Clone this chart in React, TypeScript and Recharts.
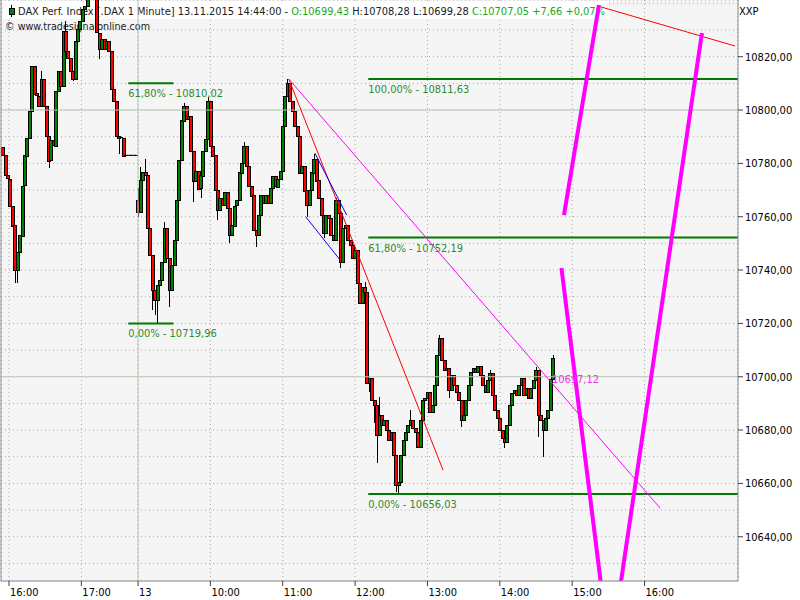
import React from 'react';
import {
  ComposedChart,
  Bar,
  XAxis,
  YAxis,
  CartesianGrid,
  ReferenceLine,
  ReferenceDot,
  Customized,
} from 'recharts';

const FONT = '"DejaVu Sans Condensed", "Liberation Sans", Arial, sans-serif';
const BODY_WIDTH = 3;

// time axis: minutes of trading time after 12.11.2015 16:00 (13.11. 09:00 = 107)
const firstMinute = -5;
const candleMinutes = 2;
const firstOpen = 10786.0;

const closes: number[] = [
  10783.0, 10775.5, 10774.3, 10764.2, 10756.8, 10739.9, 10746.7, 10753.0, 10771.7, 10783.0,
  10789.7, 10799.8, 10816.6, 10806.2, 10805.4, 10801.7, 10811.8, 10801.7, 10790.4, 10781.1,
  10788.6, 10786.7, 10807.3, 10814.8, 10809.2, 10829.7, 10822.2, 10819.6, 10814.8, 10811.8,
  10826.0, 10830.5, 10833.5, 10838.0, 10839.1, 10845.0, 10848.0, 10846.0, 10843.0, 10829.0,
  10823.0, 10826.7, 10823.0, 10826.0, 10822.2, 10808.0, 10803.5, 10790.4, 10789.7, 10789.7,
  10783.0, 10783.0, 10783.0, 10783.0, 10783.0, 10783.0, 10761.6, 10773.6, 10776.6, 10775.5,
  10755.6, 10745.5, 10732.4, 10728.7, 10734.3, 10736.2, 10742.9, 10755.6, 10744.4, 10732.4,
  10741.8, 10751.1, 10766.1, 10781.1, 10796.1, 10801.7, 10796.8, 10797.9, 10784.8, 10773.6,
  10777.3, 10770.6, 10775.5, 10784.8, 10789.3, 10803.5, 10786.7, 10783.0, 10769.9, 10762.4,
  10766.9, 10764.2, 10769.1, 10763.1, 10753.0, 10756.8, 10764.2, 10766.1, 10776.6, 10780.3,
  10786.7, 10779.2, 10771.7, 10768.0, 10754.9, 10753.0, 10760.5, 10768.0, 10765.0, 10768.0,
  10765.0, 10770.6, 10775.1, 10771.4, 10774.3, 10777.3, 10794.2, 10805.4, 10810.3, 10803.5,
  10799.8, 10794.2, 10790.4, 10776.6, 10779.2, 10769.9, 10764.2, 10769.9, 10776.6, 10781.8,
  10773.6, 10766.9, 10760.5, 10753.8, 10760.5, 10759.4, 10753.0, 10751.1, 10766.1, 10761.3,
  10742.9, 10755.6, 10756.8, 10751.1, 10749.3, 10744.4, 10747.4, 10735.1, 10727.6, 10733.6,
  10731.7, 10697.6, 10699.5, 10691.3, 10689.4, 10678.2, 10685.6, 10681.9, 10683.8, 10680.0,
  10676.3, 10679.3, 10670.7, 10659.5, 10660.6, 10670.7, 10676.3, 10679.3, 10681.9, 10683.8,
  10680.8, 10679.3, 10673.7, 10683.8, 10691.3, 10692.0, 10694.3, 10686.8, 10689.4, 10696.9,
  10708.1, 10714.5, 10706.2, 10702.5, 10703.2, 10695.0, 10700.6, 10696.9, 10694.3, 10691.3,
  10683.8, 10685.6, 10691.3, 10696.9, 10701.7, 10703.2, 10701.7, 10704.0, 10700.6, 10696.9,
  10694.3, 10698.8, 10701.4, 10693.1, 10687.5, 10684.5, 10680.0, 10677.0, 10675.5, 10681.9,
  10689.4, 10693.9, 10695.0, 10693.1, 10696.9, 10699.5, 10693.1, 10695.8, 10692.0, 10695.8,
  10698.8, 10702.5, 10685.6, 10683.8, 10680.0, 10684.5, 10687.5, 10699.3, 10707.05,
];

// session opening gap: [candle index, open]
const gapOpens: [number, number][] = [[56, 10766.1]];

// visible wick extremes: [candle index, price]
const wickTips: [number, number][] = [
  [5, 10735.1], [6, 10735.1], [16, 10814.8], [19, 10778.1], [26, 10833.5], [29, 10811.0],
  [40, 10819.3], [48, 10783.7], [56, 10770.6], [56, 10759.8], [57, 10778.5], [59, 10781.5],
  [62, 10725.0], [63, 10723.1], [64, 10719.96], [67, 10757.9], [69, 10726.1], [75, 10802.8],
  [79, 10765.4], [82, 10767.2], [85, 10805.0], [89, 10758.6], [94, 10750.0], [100, 10788.2],
  [105, 10748.5], [118, 10811.63], [126, 10759.8], [129, 10783.7], [133, 10751.9], [138, 10766.9],
  [140, 10740.7], [150, 10735.4], [152, 10694.3], [154, 10682.7], [155, 10667.7], [156, 10692.4],
  [163, 10656.8], [164, 10656.03], [169, 10687.5], [181, 10715.6], [185, 10692.0], [190, 10681.2],
  [202, 10702.5], [208, 10673.3], [221, 10703.6], [222, 10677.4], [224, 10669.9], [228, 10708.28],
];

const xTicks = [0, 60, 107, 167, 227, 287, 347, 407, 467, 527];
const xTickLabels = ['16:00', '17:00', '13', '10:00', '11:00', '12:00', '13:00', '14:00', '15:00', '16:00'];
const xDomain: [number, number] = [-6.63, 604.5];
const yDomain: [number, number] = [10623.4, 10841.26];
const yGridTicks = [
  10630, 10640, 10650, 10660, 10670, 10680, 10690, 10700, 10710, 10720, 10730,
  10740, 10750, 10760, 10770, 10780, 10790, 10800, 10810, 10820, 10830, 10840,
];
const yLabelMin = 10640;
const yLabelMax = 10820;
const solidGridPrices = [10700, 10800];
const sessionBreak = 107;

const fibPrices = [10810.02, 10719.96, 10811.63, 10752.19, 10656.03];
const fibTexts = ['61,80% - 10810,02', '0,00% - 10719,96', '100,00% - 10811,63', '61,80% - 10752,19', '0,00% - 10656,03'];
const fibStarts = [98.9, 98.9, 297.9, 297.9, 297.9];
const fibEnds = [136.4, 136.4, 604.5, 604.5, 604.5];

// [t1, price1, t2, price2]
const trendSegments: [number, number, number, number][] = [
  [232, 10811.63, 540, 10650.7],
  [232, 10811.63, 359.9, 10665.0],
  [253.7, 10783.8, 280.0, 10760.6],
  [246.0, 10760.0, 274.5, 10743.8],
  [488.4, 10839.0, 602.0, 10824.0],
  [460.2, 10760.6, 489.2, 10839.4],
  [458.1, 10740.8, 492.9, 10615.0],
  [574.6, 10828.9, 504.8, 10615.0],
];
const trendColors = ['#ff00ff', '#ff0000', '#0000ff', '#0000ff', '#ff0000', '#ff00ff', '#ff00ff', '#ff00ff'];
const trendWidths = [1, 1, 1, 1, 1, 4, 4, 4];

const lineValueTime = 451;
const lineValue = 10697.12;
const lineValueText = '10697,12';

const headerDark1 = 'DAX Perf. Index [.DAX  1 Minute] 13.11.2015 14:44:00 - ';
const headerOpen = 'O:10699,43 ';
const headerDark2 = 'H:10708,28 L:10699,28 ';
const headerClose = 'C:10707,05 +7,66 +0,07%';
const copyright = '\u00a9 www.tradesignalonline.com';

const candles = closes.map((close, i) => {
  const gap = gapOpens.find((g) => g[0] === i);
  const open = i === 0 ? firstOpen : gap ? gap[1] : closes[i - 1];
  const tips = wickTips.filter((w) => w[0] === i).map((w) => w[1]);
  const high = Math.max(open, close, ...tips);
  const low = Math.min(open, close, ...tips);
  return { t: firstMinute + i * candleMinutes, open, high, low, close, range: [low, high] };
});

const Candle = (props: any) => {
  const { x, y, width, height, payload } = props;
  if (x == null || y == null || !payload) return null;
  const top = Math.min(y, y + (height || 0));
  const h = Math.abs(height || 0);
  const { open, close, high, low } = payload;
  const center = x + (width || 0) / 2;
  const cx = Math.round(center) + 0.5;
  const left = Math.round(center - BODY_WIDTH / 2) + 0.5;
  if (high - low <= 0 || h === 0) {
    return <line x1={left - 0.5} x2={left + BODY_WIDTH + 0.5} y1={top} y2={top} stroke="#000" strokeWidth={1} />;
  }
  const ppu = h / (high - low);
  const yO = top + (high - open) * ppu;
  const yC = top + (high - close) * ppu;
  const bTop = Math.min(yO, yC);
  const bH = Math.max(Math.abs(yC - yO), 1);
  const up = close >= open;
  return (
    <g shapeRendering="crispEdges">
      <line x1={cx} x2={cx} y1={top} y2={top + h} stroke="#000" strokeWidth={1} />
      <rect x={left} y={Math.round(bTop) + 0.5} width={BODY_WIDTH} height={Math.max(Math.round(bH), 1)}
        fill={up ? '#008000' : '#ff0000'} stroke="#000" strokeWidth={1} />
    </g>
  );
};

const XTick = (props: any) => {
  const { x, y, payload } = props;
  const idx = xTicks.indexOf(payload.value);
  return (
    <g>
      <line x1={x} x2={x} y1={y} y2={y + 5} stroke="#404040" />
      <text x={x + 1} y={y + 15} fontFamily={FONT} fontSize={11} fill="#000" textAnchor="start">
        {idx >= 0 ? xTickLabels[idx] : ''}
      </text>
    </g>
  );
};

const YTick = (props: any) => {
  const { x, y, payload } = props;
  const v = payload.value;
  if (v % 20 !== 0 || v < yLabelMin || v > yLabelMax) return null;
  return (
    <g>
      <line x1={x} x2={x + 5} y1={y} y2={y} stroke="#404040" />
      <text x={x + 7} y={y + 4} fontFamily={FONT} fontSize={11} fill="#000" textAnchor="start">
        {v.toFixed(2).replace('.', ',')}
      </text>
    </g>
  );
};

const FibLabel = (props: any) => {
  const vb = props.viewBox || {};
  return (
    <text x={vb.x} y={vb.y + 14} fontFamily={FONT} fontSize={11} fill="#2e8b2e">
      {props.text}
    </text>
  );
};

const ValueLabel = (props: any) => {
  const vb = props.viewBox || {};
  return (
    <text x={vb.x} y={vb.y} fontFamily={FONT} fontSize={11} fill="#f032f0">
      {props.text}
    </text>
  );
};

const Header = () => (
  <g fontFamily={FONT} fontSize={11}>
    <rect x={3} y={1} width={606} height={18} fill="#ffffff" />
    <line x1={11.5} x2={11.5} y1={5} y2={17} stroke="#000" />
    <rect x={9.5} y={8.5} width={5} height={6} fill="#008000" stroke="#000" />
    <text x={18} y={15} textLength={587} lengthAdjust="spacingAndGlyphs">
      <tspan fill="#202020">{headerDark1}</tspan>
      <tspan fill="#18a818">{headerOpen}</tspan>
      <tspan fill="#202020">{headerDark2}</tspan>
      <tspan fill="#18a818">{headerClose}</tspan>
    </text>
    <text x={5} y={30} textLength={145} lengthAdjust="spacingAndGlyphs" fill="#202020">
      {copyright}
    </text>
    <text x={739} y={15} fill="#000">XXP</text>
  </g>
);

export default function App() {
  return (
    <div style={{ position: 'absolute', left: 0, top: 0, width: 800, height: 600, background: '#ffffff' }}>
      <ComposedChart width={800} height={600} data={candles} margin={{ top: 0, right: 0, bottom: 0, left: 1 }}>
        <CartesianGrid fill="#f5f5f5" stroke="#a9a9a9" strokeDasharray="1 3" />
        <XAxis
          dataKey="t"
          type="number"
          domain={xDomain}
          allowDataOverflow
          ticks={xTicks}
          interval={0}
          height={19}
          tickSize={0}
          tickMargin={0}
          tickLine={false}
          tick={<XTick />}
          axisLine={{ stroke: '#8c8c8c' }}
        />
        <YAxis
          orientation="right"
          type="number"
          domain={yDomain}
          allowDataOverflow
          ticks={yGridTicks}
          interval={0}
          width={62}
          tickSize={0}
          tickMargin={0}
          tickLine={false}
          tick={<YTick />}
          axisLine={{ stroke: '#8c8c8c' }}
        />
        <Customized component={Header} />
        {solidGridPrices.map((p) => (
          <ReferenceLine key={'g' + p} y={p} stroke="#b9c9b4" strokeWidth={1} />
        ))}
        <ReferenceLine x={sessionBreak} stroke="#b9c9b4" strokeWidth={1} />
        <ReferenceLine x={xDomain[0]} stroke="#8c8c8c" strokeWidth={1} />
        <Bar dataKey="range" barSize={2} shape={Candle} isAnimationActive={false} />
        {fibPrices.map((p, i) => (
          <ReferenceLine
            key={'f' + i}
            segment={[{ x: fibStarts[i], y: p }, { x: fibEnds[i], y: p }]}
            stroke="#007a00"
            strokeWidth={2}
            ifOverflow="hidden"
            label={<FibLabel text={fibTexts[i]} />}
          />
        ))}
        {trendSegments.map((s, i) => (
          <ReferenceLine
            key={'t' + i}
            segment={[{ x: s[0], y: s[1] }, { x: s[2], y: s[3] }]}
            stroke={trendColors[i]}
            strokeWidth={trendWidths[i]}
            ifOverflow="hidden"
          />
        ))}
        <ReferenceDot
          x={lineValueTime}
          y={lineValue}
          r={1}
          fill="none"
          stroke="none"
          label={<ValueLabel text={lineValueText} />}
        />
      </ComposedChart>
    </div>
  );
}
